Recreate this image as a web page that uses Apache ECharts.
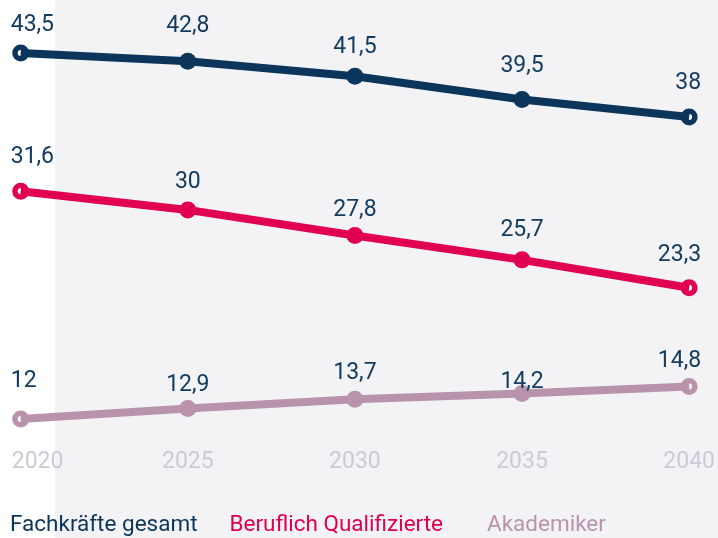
<!DOCTYPE html>
<html>
<head>
<meta charset="utf-8">
<script src="https://cdn.jsdelivr.net/npm/echarts@6/dist/echarts.min.js"></script>
<style>
  html, body { margin: 0; padding: 0; background: #ffffff; }
  #chart { width: 718px; height: 538px; }
</style>
</head>
<body>
<div id="chart"></div>
<script>
// ---- data ----
const categories = ['2020', '2025', '2030', '2035', '2040'];
const seriesNames = ['Fachkräfte gesamt', 'Beruflich Qualifizierte', 'Akademiker'];
const gesamt = [43.5, 42.8, 41.5, 39.5, 38];
const beruflich = [31.6, 30, 27.8, 25.7, 23.3];
const akademiker = [12, 12.9, 13.7, 14.2, 14.8];

// ---- style ----
const colors = ['#0b355a', '#e1004f', '#b993ab'];
const labelColor = '#123c60';
const axisLabelColor = '#c9cbd8';
const FONT = 'Roboto';
// gap (px) between point centre and label, per point (style only)
const labelGaps = [
  [27, 34, 29, 33, 33],
  [34, 27, 25, 29, 32],
  [37, 23, 26, 11, 25]
];
const ringSymbol = 'path://M10,0A10,10,0,1,1,-10,0A10,10,0,1,1,10,0ZM3.5,0A3.5,3.5,0,1,0,-3.5,0A3.5,3.5,0,1,0,3.5,0Z';

const chart = echarts.init(document.getElementById('chart'), null, { renderer: 'canvas' });

function fmt(v) { return String(v).replace('.', ','); }

function buildData(values, gaps) {
  const n = values.length;
  return values.map((v, i) => {
    const end = (i === 0 || i === n - 1);
    const item = {
      value: v,
      symbol: end ? ringSymbol : 'circle',
      label: { distance: gaps[i] - 8.5 - 11 }
    };
    if (i === 0) { item.label.align = 'left'; item.label.offset = [-10, 0]; }
    if (i === n - 1) { item.label.align = 'right'; item.label.offset = [12, 0]; }
    return item;
  });
}

const allValues = [gesamt, beruflich, akademiker];

const legendBase = {
  top: 514,
  padding: 0,
  itemGap: 27,
  itemWidth: 0,
  itemHeight: 22,
  selectedMode: false,
  itemStyle: { opacity: 0 },
  lineStyle: { opacity: 0 },
  textStyle: { fontFamily: FONT, fontSize: 22.5 }
};

const option = {
  animation: false,
  backgroundColor: 'transparent',
  graphic: [{
    type: 'rect',
    silent: true,
    z: -10,
    shape: { x: 55, y: 0, width: 663, height: 538 },
    style: { fill: '#f3f3f6' }
  }],
  grid: { left: 20.7, right: 24, top: 35.6, bottom: 37.6, containLabel: false },
  legend: [
    Object.assign({}, legendBase, {
      left: 5,
      data: seriesNames.slice(0, 2).map((n, i) => ({ name: n, icon: 'rect', textStyle: { color: colors[i] } }))
    }),
    Object.assign({}, legendBase, {
      left: 482,
      data: [{ name: seriesNames[2], icon: 'rect', textStyle: { color: colors[2] } }]
    })
  ],
  xAxis: {
    type: 'category',
    data: categories,
    boundaryGap: false,
    offset: -38,
    axisLine: { show: false },
    axisTick: { show: false },
    splitLine: { show: false },
    axisLabel: {
      color: axisLabelColor,
      fontFamily: FONT,
      fontSize: 23,
      margin: 0,
      verticalAlign: 'middle',
      alignMinLabel: 'right',
      formatter: (v, i) => i === 0 ? '{f|' + v + '}' : v,
      rich: { f: { width: 9, align: 'left', color: axisLabelColor, fontFamily: FONT, fontSize: 23 } }
    }
  },
  yAxis: {
    type: 'value',
    min: 5,
    max: 45,
    show: false,
    splitLine: { show: false }
  },
  series: allValues.map((vals, si) => ({
    name: seriesNames[si],
    type: 'line',
    data: buildData(vals, labelGaps[si]),
    color: colors[si],
    symbolSize: 17,
    lineStyle: { width: 8, color: colors[si] },
    itemStyle: { color: colors[si], borderWidth: 0 },
    z: 3 + si,
    label: {
      show: true,
      position: 'top',
      color: labelColor,
      fontFamily: FONT,
      fontSize: 23,
      formatter: p => fmt(p.value)
    }
  }))
};

chart.setOption(option);
</script>
</body>
</html>
